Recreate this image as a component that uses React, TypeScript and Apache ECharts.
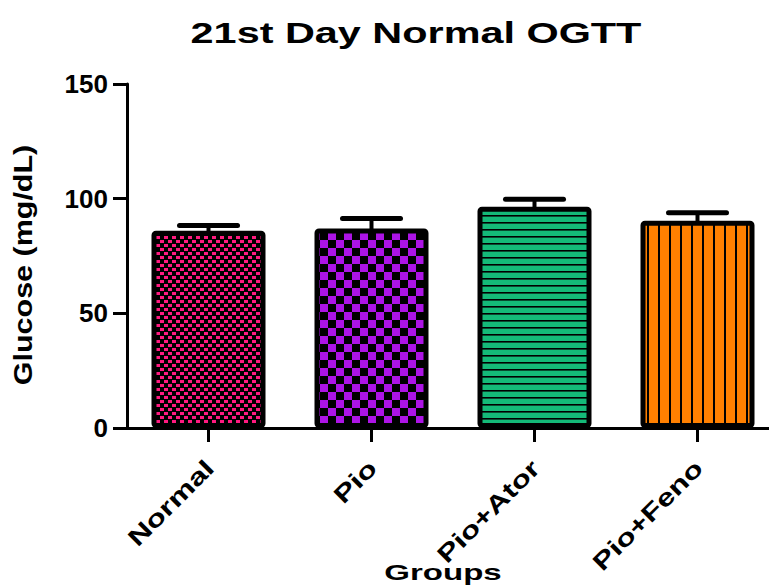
import React, { useEffect, useRef } from "react";
import * as echarts from "echarts";

const categories = ["Normal", "Pio", "Pio+Ator", "Pio+Feno"];
const means = [86, 87, 96.5, 90.4];
const sems = [2.3, 4.4, 3.2, 3.5];
const yMin = 0;
const yMax = 150;
const yInterval = 50;
const titleText = "21st Day Normal OGTT";
const xName = "Groups";
const yName = "Glucose (mg/dL)";

const FONT = "'Liberation Sans', Arial, sans-serif";

function makePattern(w: number, h: number, draw: (ctx: CanvasRenderingContext2D) => void) {
  const c = document.createElement("canvas");
  c.width = w;
  c.height = h;
  const ctx = c.getContext("2d")!;
  draw(ctx);
  return { image: c.toDataURL(), repeat: "repeat", imageWidth: w, imageHeight: h } as any;
}

function buildPatterns() {
  const pink = makePattern(8, 8, (ctx) => {
    ctx.fillStyle = "#000";
    ctx.fillRect(0, 0, 8, 8);
    ctx.fillStyle = "#FF1A80";
    ctx.fillRect(0, 0, 4, 3);
    ctx.fillRect(4, 4, 4, 3);
  });
  const purple = makePattern(16, 16, (ctx) => {
    ctx.fillStyle = "#000";
    ctx.fillRect(0, 0, 16, 16);
    ctx.fillStyle = "#AD14E6";
    ctx.fillRect(0, 0, 8, 8);
    ctx.fillRect(8, 8, 8, 8);
  });
  const green = makePattern(8, 7, (ctx) => {
    ctx.fillStyle = "#14BA78";
    ctx.fillRect(0, 0, 8, 7);
    ctx.fillStyle = "#000";
    ctx.fillRect(0, 5, 8, 1);
    ctx.fillStyle = "#0a4a30";
    ctx.fillRect(0, 6, 8, 1);
  });
  const orange = makePattern(11, 8, (ctx) => {
    ctx.fillStyle = "#FF8000";
    ctx.fillRect(0, 0, 11, 8);
    ctx.fillStyle = "#000";
    ctx.fillRect(9, 0, 2, 8);
  });
  return [pink, purple, green, orange];
}

export default function App() {
  const ref = useRef<HTMLDivElement>(null);

  useEffect(() => {
    if (!ref.current) return;
    const chart = echarts.init(ref.current, undefined, { renderer: "svg" });
    const patterns = buildPatterns();

    chart.setOption({
      animation: false,
      backgroundColor: "#fff",
      grid: { left: 127, top: 84, right: 1, height: 344, containLabel: false },
      xAxis: {
        type: "category",
        data: categories,
        boundaryGap: true,
        axisLine: { show: true, lineStyle: { color: "#000", width: 3 } },
        axisTick: { show: true, alignWithLabel: true, length: 14, lineStyle: { color: "#000", width: 3 } },
        axisLabel: { show: false },
        splitLine: { show: false },
      },
      yAxis: {
        type: "value",
        min: yMin,
        max: yMax,
        interval: yInterval,
        axisLine: { show: true, lineStyle: { color: "#000", width: 3 } },
        axisTick: { show: true, length: 14, lineStyle: { color: "#000", width: 3 } },
        axisLabel: {
          show: true,
          color: "#000",
          fontSize: 26,
          fontWeight: "bold",
          fontFamily: FONT,
          margin: 19,
        },
        splitLine: { show: false },
      },
      series: [
        {
          type: "bar",
          barWidth: 114,
          data: means.map((v, i) => ({
            value: v,
            itemStyle: {
              color: patterns[i],
              borderColor: "#000",
              borderWidth: 5,
              borderRadius: 2,
            },
          })),
          z: 2,
        },
        {
          type: "custom",
          z: 3,
          data: means.map((m, i) => [i, m, m + sems[i]]),
          renderItem: (params: any, api: any) => {
            const idx = api.value(0);
            const base = api.coord([idx, api.value(1)]);
            const top = api.coord([idx, api.value(2)]);
            const half = 29;
            return {
              type: "group",
              children: [
                {
                  type: "line",
                  shape: { x1: top[0], y1: base[1] + 2, x2: top[0], y2: top[1] },
                  style: { stroke: "#000", lineWidth: 4 },
                },
                {
                  type: "line",
                  shape: { x1: top[0] - half, y1: top[1], x2: top[0] + half, y2: top[1] },
                  style: { stroke: "#000", lineWidth: 5, lineCap: "round" },
                },
              ],
            };
          },
        },
      ],
    });

    const labelGraphics = categories.map((c) => {
      const px = chart.convertToPixel({ xAxisIndex: 0 }, c as any) as unknown as number;
      return {
        type: "text",
        x: px + 1,
        y: 464,
        rotation: Math.PI / 4,
        scaleX: 1.33,
        style: {
          text: c,
          fontSize: 24,
          fontWeight: "bold",
          fontFamily: FONT,
          fill: "#000",
          align: "right",
          verticalAlign: "middle",
        },
      };
    });

    chart.setOption({
      graphic: [
        {
          type: "text",
          x: 416,
          y: 33,
          scaleX: 1.38,
          style: {
            text: titleText,
            fontSize: 30,
            fontWeight: "bold",
            fontFamily: FONT,
            fill: "#000",
            align: "center",
            verticalAlign: "middle",
          },
        },
        {
          type: "text",
          x: 443,
          y: 573,
          scaleX: 1.5,
          style: {
            text: xName,
            fontSize: 22,
            fontWeight: "bold",
            fontFamily: FONT,
            fill: "#000",
            align: "center",
            verticalAlign: "middle",
          },
        },
        {
          type: "text",
          x: 23,
          y: 265,
          rotation: Math.PI / 2,
          scaleX: 1.22,
          style: {
            text: yName,
            fontSize: 25,
            fontWeight: "bold",
            fontFamily: FONT,
            fill: "#000",
            align: "center",
            verticalAlign: "middle",
          },
        },
        ...labelGraphics,
      ],
    });

    return () => chart.dispose();
  }, []);

  return (
    <div style={{ position: "fixed", left: 0, top: 0, width: 769, height: 585, overflow: "hidden" }}>
      <div ref={ref} style={{ width: 780, height: 585 }} />
    </div>
  );
}
